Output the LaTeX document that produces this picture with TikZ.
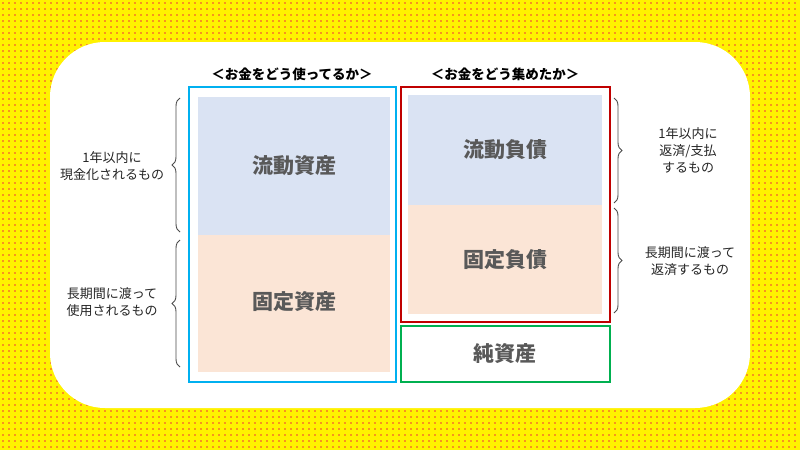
\documentclass[tikz,border=0pt]{standalone}
\usepackage{fontspec}
\setmainfont{Noto Sans CJK JP}
\usetikzlibrary{decorations.pathreplacing}
\definecolor{bgy}{HTML}{FFF200}
\definecolor{dotc}{HTML}{F7941D}
\definecolor{lblue}{HTML}{DAE3F3}
\definecolor{lpeach}{HTML}{FBE5D6}
\definecolor{bbox}{HTML}{00B0F0}
\definecolor{rbox}{HTML}{C00000}
\definecolor{gbox}{HTML}{00B050}
\definecolor{gtext}{HTML}{595959}
\tikzset{
 big/.style={font=\fontsize{21}{24}\selectfont\bfseries, text=gtext},
 small/.style={font=\fontsize{13}{17}\selectfont, align=center, text=black!85},
 head/.style={font=\fontsize{13.5}{16}\selectfont\bfseries},
 brc/.style={decorate, decoration={brace, amplitude=8pt}, draw=black!70, line width=0.9pt}
}
\begin{document}
\begin{tikzpicture}[x=1pt,y=-1pt]
\useasboundingbox (0,0) rectangle (800,450);
\fill[bgy] (0,0) rectangle (800,450);
\foreach \i in {0,...,133}{\foreach \j in {0,...,75}{
 \fill[dotc] (\i*6+2,\j*6+2) rectangle ++(1.5,1.5);}}
\fill[white, rounded corners=55pt] (50,42) rectangle (750,408);
% left
\fill[lblue] (198,97) rectangle (390,235);
\fill[lpeach] (198,235) rectangle (390,372);
\node[big] (ra) at (294,166) {流動資産};
\node[big] (fa) at (294,302) {固定資産};
\draw[bbox, line width=2.5pt] (189,87) rectangle (396,382);
% right
\fill[lblue] (408,95) rectangle (602,205);
\fill[lpeach] (408,205) rectangle (602,314);
\node[big] (rl) at (505,150) {流動負債};
\node[big] (fl) at (505,260) {固定負債};
\draw[rbox, line width=2.5pt] (401,87) rectangle (610,322);
\draw[gbox, line width=2.5pt] (401,326) rectangle (610,382);
\node[big] (eq) at (505,354) {純資産};
% headings
\node[head] (h1) at (292,74) {＜お金をどう使ってるか＞};
\node[head] (h2) at (505,74) {＜お金をどう集めたか＞};
% braces
\draw[brc] (180,232) -- (180,98);
\draw[brc] (180,367) -- (180,240);
\draw[brc] (614,98) -- (614,203);
\draw[brc] (614,208) -- (614,313);
\node[small] (l1) at (112,166) {1年以内に\\現金化されるもの};
\node[small] (l2) at (112,302) {長期間に渡って\\使用されるもの};
\node[small] (r1) at (688,150) {1年以内に\\返済/支払\\するもの};
\node[small] (r2) at (690,261) {長期間に渡って\\返済するもの};
\end{tikzpicture}
\end{document}
